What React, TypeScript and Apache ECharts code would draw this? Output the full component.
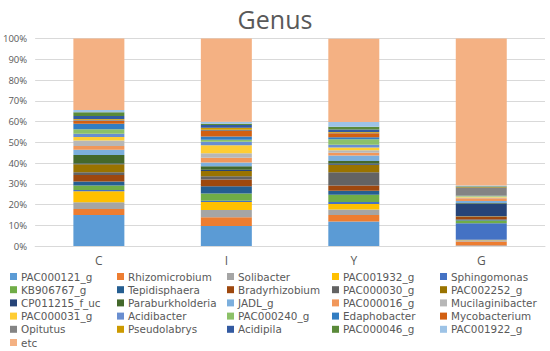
import React, { useEffect, useRef } from "react";
import * as echarts from "echarts";

const categories = ["C", "I", "Y", "G"];

const seriesNames = [
  "PAC000121_g", "Rhizomicrobium", "Solibacter", "PAC001932_g", "Sphingomonas",
  "KB906767_g", "Tepidisphaera", "Bradyrhizobium", "PAC000030_g", "PAC002252_g",
  "CP011215_f_uc", "Paraburkholderia", "JADL_g", "PAC000016_g", "Mucilaginibacter",
  "PAC000031_g", "Acidibacter", "PAC000240_g", "Edaphobacter", "Mycobacterium",
  "Opitutus", "Pseudolabrys", "Acidipila", "PAC000046_g", "PAC001922_g", "etc",
];

const seriesColors = [
  "#5B9BD5", "#ED7D31", "#A5A5A5", "#FFC000", "#4472C4",
  "#70AD47", "#255E91", "#9E480E", "#636363", "#997300",
  "#264478", "#43682B", "#7CAFDD", "#F1975A", "#B7B7B7",
  "#FFCD33", "#698ED0", "#8CC168", "#327DC2", "#D26012",
  "#848484", "#CC9A00", "#335AA1", "#5A8A39", "#9DC3E6", "#F4B183",
];

// values per category [C, I, Y, G] in %
const valuesC = [14.9, 2.9, 3.3, 5.3, 0.6, 2.2, 1.9, 3.1, 1.3, 3.9, 0.3, 4.2, 2.5, 1.8, 2.6, 1.7, 1.6, 2.2, 2.6, 1.5, 0.4, 0.4, 1.5, 1.8, 1.0, 34.5];
const valuesI = [9.6, 4.2, 3.5, 3.9, 0.6, 3.5, 3.5, 3.2, 1.6, 2.6, 0.6, 1.6, 1.9, 2.2, 2.2, 3.9, 1.6, 1.0, 1.6, 2.6, 0.6, 1.0, 1.3, 0.6, 1.0, 40.1];
const valuesY = [11.8, 3.2, 2.6, 2.6, 1.0, 3.5, 1.9, 2.6, 6.4, 3.5, 0.6, 1.3, 2.6, 1.3, 1.3, 1.3, 1.3, 2.6, 1.0, 1.9, 0.3, 0.3, 1.3, 1.3, 2.2, 40.2];
const valuesG = [0.3, 1.9, 0.6, 0.2, 8.0, 1.3, 0.5, 1.3, 0.2, 0.2, 6.0, 0.2, 1.0, 1.3, 0.4, 0.3, 0.2, 0.3, 0.2, 0.2, 3.3, 0.4, 0.2, 0.3, 0.3, 70.9];

const yTicks = { min: 0, max: 100, interval: 10 };

export default function App() {
  const ref = useRef<HTMLDivElement>(null);

  useEffect(() => {
    if (!ref.current) return;
    const chart = echarts.init(ref.current, undefined, { renderer: "svg" });
    const font = "'Open Sans', 'Noto Sans', sans-serif";
    const legendFont = "'DejaVu Sans', sans-serif";
    const textColor = "#595959";

    const series = seriesNames.map((name, i) => ({
      name,
      type: "bar",
      stack: "total",
      barWidth: "40%",
      itemStyle: { color: seriesColors[i] },
      emphasis: { disabled: true },
      data: [valuesC[i], valuesI[i], valuesY[i], valuesG[i]],
    }));

    const colX = [10, 117, 227, 332, 440];
    const legends = seriesNames.map((name, i) => {
      const col = i % 5;
      const row = Math.floor(i / 5);
      return {
        data: [name],
        left: colX[col],
        top: 270.5 + row * 13.2,
        orient: "horizontal",
        icon: "rect",
        itemWidth: 7,
        itemHeight: 7,
        itemGap: 0,
        padding: 0,
        selectedMode: false,
        textStyle: {
          color: textColor,
          fontSize: 10.4,
          lineHeight: 12,
          fontFamily: legendFont,
          padding: [0, 0, 0, -1],
        },
      };
    });

    chart.setOption({
      animation: false,
      title: {
        text: "Genus",
        left: "center",
        top: 1,
        textStyle: { color: textColor, fontSize: 25, fontWeight: "normal", fontFamily: font },
      },
      grid: { left: 33, right: 5, top: 38.5, bottom: 105, containLabel: false },
      legend: legends,
      xAxis: {
        type: "category",
        data: categories,
        axisLine: { show: true, lineStyle: { color: "#d9d9d9" } },
        axisTick: { show: false },
        axisLabel: { color: textColor, fontSize: 12, fontFamily: font, margin: 8 },
      },
      yAxis: {
        type: "value",
        min: yTicks.min,
        max: yTicks.max,
        interval: yTicks.interval,
        axisLine: { show: false },
        axisTick: { show: false },
        splitLine: { lineStyle: { color: "#d9d9d9" } },
        axisLabel: { color: textColor, fontSize: 9.5, fontFamily: font, margin: 8, formatter: "{value}%" },
      },
      series,
    });
    return () => chart.dispose();
  }, []);

  return (
    <div
      ref={ref}
      style={{ position: "fixed", left: 0, top: 0, width: 550, height: 351, background: "#fff" }}
    />
  );
}
